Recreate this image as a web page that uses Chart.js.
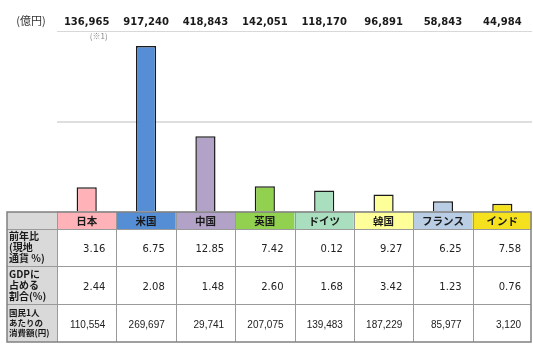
<!DOCTYPE html>
<html>
<head>
<meta charset="utf-8">
<script src="https://cdn.jsdelivr.net/npm/chart.js@4"></script>
<style>
  html, body { margin: 0; padding: 0; background: #fff; }
</style>
</head>
<body>
<canvas id="myChart" width="533" height="345"></canvas>
<script>
const countries = ['日本', '米国', '中国', '英国', 'ドイツ', '韓国', 'フランス', 'インド'];
// 消費額 (億円)
const spending = [136965, 917240, 418843, 142051, 118170, 96891, 58843, 44984];
// 前年比 (現地通貨 %)
const growth = [3.16, 6.75, 12.85, 7.42, 0.12, 9.27, 6.25, 7.58];
// GDPに占める割合 (%)
const gdpShare = [2.44, 2.08, 1.48, 2.60, 1.68, 3.42, 1.23, 0.76];
// 国民1人あたりの消費額 (円)
const perCapita = [110554, 269697, 29741, 207075, 139483, 187229, 85977, 3120];
const yTicks = [0, 500000, 1000000];

const barColors = ['#ffb3b8', '#558ed5', '#b3a2c7', '#92d050', '#a9dfbf', '#ffff99', '#b9cde5', '#f5e11e'];

const fmt = n => n.toLocaleString('en-US');

// table rows: [label lines, label font, line height, values, value font, row top, row bottom]
const rows = [
    [['前年比', '(現地', '通貨 %)'], 'bold 10px "Noto Sans CJK JP"', 11, growth.map(v => v.toFixed(2)), '10px "DejaVu Sans"', 229, 266],
    [['GDPに', '占める', '割合(%)'], 'bold 10px "Noto Sans CJK JP"', 11, gdpShare.map(v => v.toFixed(2)), '10px "DejaVu Sans"', 266, 304],
    [['国民1人', 'あたりの', '消費額(円)'], 'bold 8.5px "Noto Sans CJK JP"', 10, perCapita.map(fmt), '10px "Liberation Sans"', 304, 342]
];

const tablePlugin = {
    id: 'tablePlugin',
    afterDraw(chart) {
        const c = chart.ctx;
        const x = chart.scales.x;
        const area = chart.chartArea;
        const w = (area.right - area.left) / countries.length;
        const tLeft = 7, tTop = 212, hBottom = 229, tBottom = 342;
        const tRight = area.right - 1;

        c.save();
        // value labels on top
        c.fillStyle = '#1a1a1a';
        c.textAlign = 'center';
        c.textBaseline = 'middle';
        c.font = 'bold 10px "DejaVu Sans"';
        spending.forEach((v, i) => {
            c.fillText(fmt(v), x.getPixelForValue(i), 22);
        });
        c.font = '11px "Noto Sans CJK JP"';
        c.fillStyle = '#333';
        c.fillText('(億円)', 31, 21);
        c.font = '8px "Noto Sans CJK JP"';
        c.fillStyle = '#888';
        c.fillText('(※1)', x.getPixelForValue(0) + 12, 36);

        // header row
        c.fillStyle = '#d9d9d9';
        c.fillRect(tLeft, tTop, area.left - tLeft, tBottom - tTop);
        countries.forEach((name, i) => {
            const cx = x.getPixelForValue(i);
            c.fillStyle = barColors[i];
            c.fillRect(cx - w / 2, tTop, w, hBottom - tTop);
            c.fillStyle = '#1a1a1a';
            c.font = 'bold 10.5px "Noto Sans CJK JP"';
            c.textAlign = 'center';
            c.fillText(name, cx, (tTop + hBottom) / 2 + 0.5);
        });

        // body rows
        rows.forEach(r => {
            const [lines, lFont, lh, vals, vFont, top, bottom] = r;
            c.fillStyle = '#1a1a1a';
            c.font = lFont;
            c.textAlign = 'left';
            const mid = (top + bottom) / 2;
            lines.forEach((t, k) => {
                c.fillText(t, 9, mid + (k - 1) * lh);
            });
            c.font = vFont;
            c.textAlign = 'right';
            c.fillStyle = '#222';
            vals.forEach((t, i) => {
                const right = x.getPixelForValue(i) + w / 2;
                c.fillText(t, right - 11, mid + 2);
            });
        });

        // grid lines
        c.strokeStyle = '#9a9a9a';
        c.lineWidth = 1;
        c.beginPath();
        [hBottom, 266, 304].forEach(y => {
            c.moveTo(tLeft, y + 0.5);
            c.lineTo(tRight, y + 0.5);
        });
        for (let i = 0; i < countries.length; i++) {
            const xx = Math.round(area.left + i * w) + 0.5;
            c.moveTo(xx, tTop);
            c.lineTo(xx, tBottom);
        }
        c.stroke();
        c.strokeStyle = '#808080';
        c.lineWidth = 1.5;
        c.strokeRect(tLeft, tTop, tRight - tLeft, tBottom - tTop);
        c.restore();
    }
};

const ctx = document.getElementById('myChart').getContext('2d');
const myChart = new Chart(ctx, {
    type: 'bar',
    data: {
        labels: countries,
        datasets: [{
            data: spending,
            backgroundColor: barColors,
            borderColor: '#1a1a1a',
            borderWidth: 1.5,
            barPercentage: 0.34,
            categoryPercentage: 1
        }]
    },
    options: {
        responsive: false,
        devicePixelRatio: 1,
        animation: false,
        layout: { padding: { left: 57, right: 1, top: 31, bottom: 133 } },
        plugins: {
            legend: { display: false },
            tooltip: { enabled: false }
        },
        scales: {
            x: { display: false },
            y: {
                min: yTicks[0],
                max: yTicks[yTicks.length - 1],
                afterBuildTicks: axis => { axis.ticks = yTicks.map(v => ({ value: v })); },
                ticks: { display: false },
                border: { display: false },
                grid: {
                    drawTicks: false,
                    color: ctx => ctx.tick.value === 1000000 ? '#d8d8d8' : '#dedede',
                    lineWidth: ctx => ctx.tick.value === 1000000 ? 1 : 2
                }
            }
        }
    },
    plugins: [tablePlugin]
});
</script>
</body>
</html>
